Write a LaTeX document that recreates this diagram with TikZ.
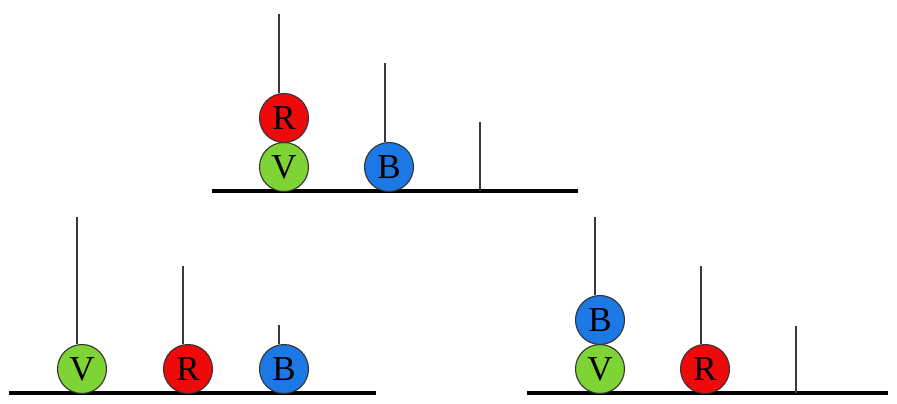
\documentclass[tikz,border=0pt]{standalone}
\usepackage{fontspec}
\setmainfont{Liberation Serif}
\definecolor{ballred}{HTML}{EE0A0A}
\definecolor{ballgreen}{HTML}{7ED335}
\definecolor{ballblue}{HTML}{1C78E4}
\definecolor{pegc}{HTML}{3A3A3A}
\tikzset{
  ball/.style={circle, draw=black!80, line width=1.1pt, minimum size=49pt, inner sep=0pt,
    font=\fontsize{35}{35}\selectfont, text=black},
  rb/.style={ball, fill=ballred},
  gb/.style={ball, fill=ballgreen},
  bb/.style={ball, fill=ballblue},
  base/.style={line width=4pt, black},
  peg/.style={line width=1.3pt, pegc}
}
\begin{document}
\begin{tikzpicture}[x=1pt,y=-1pt]
\useasboundingbox (0,0) rectangle (897,404);
% ---------- top group ----------
\coordinate (t0) at (212,191);
\coordinate (t1) at (578,191);
\draw[base] (t0) -- (t1);
\node[gb] (tV) at (284,167) {V};
\node[rb] (tR) at (284,118) {R};
\node[bb] (tB) at (389,167) {B};
\coordinate (tp1) at (279,14);
\coordinate (tp2) at (385,63);
\coordinate (tp3) at (480,122);
\draw[peg] (tp1) -- (tp1 |- tR.north);
\draw[peg] (tp2) -- (tp2 |- tB.north);
\draw[peg] (tp3) -- (tp3 |- t0);
% ---------- bottom left ----------
\coordinate (l0) at (9,393);
\coordinate (l1) at (376,393);
\draw[base] (l0) -- (l1);
\node[gb] (lV) at (82,369) {V};
\node[rb] (lR) at (188,369) {R};
\node[bb] (lB) at (284,369) {B};
\coordinate (lp1) at (77,217);
\coordinate (lp2) at (183,266);
\coordinate (lp3) at (279,325);
\draw[peg] (lp1) -- (lp1 |- lV.north);
\draw[peg] (lp2) -- (lp2 |- lR.north);
\draw[peg] (lp3) -- (lp3 |- lB.north);
% ---------- bottom right ----------
\coordinate (r0) at (527,393);
\coordinate (r1) at (888,393);
\draw[base] (r0) -- (r1);
\node[gb] (rV) at (600,369) {V};
\node[bb] (rB) at (600,320) {B};
\node[rb] (rR) at (705,369) {R};
\coordinate (rp1) at (595,217);
\coordinate (rp2) at (701,266);
\coordinate (rp3) at (796,326);
\draw[peg] (rp1) -- (rp1 |- rB.north);
\draw[peg] (rp2) -- (rp2 |- rR.north);
\draw[peg] (rp3) -- (rp3 |- r0);
\end{tikzpicture}
\end{document}
